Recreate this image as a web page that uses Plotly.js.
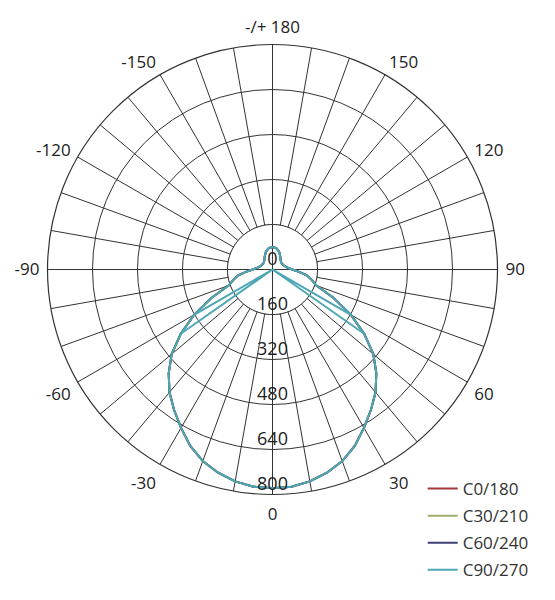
<!DOCTYPE html>
<html><head><meta charset="utf-8">
<script src="https://cdn.plot.ly/plotly-3.0.1.min.js"></script>
<style>html,body{margin:0;padding:0;background:#fff}#chart{width:555px;height:600px}</style>
</head><body><div id="chart"></div>
<script>
// ---- data (gamma angle in degrees, luminous intensity cd/klm) ----
const seriesNames = ['C0/180','C30/210','C60/240','C90/270'];
const seriesColors = ['#a8373a','#9fae6c','#3c4072','#4ea8b4'];

const thetaStd = [-180,-170,-160,-150,-140,-130,-120,-110,-100,-90,-85,-80,-75,-70,-65,-60,-55,-50,-45,-40,-35,-30,-25,-20,-15,-10,-5,0,5,10,15,20,25,30,35,40,45,50,55,60,65,70,75,80,85,90,100,110,120,130,140,150,160,170,180];
const rC0   = [80,77,68,55,45,40,40,42,50,70,95,125,145,165,240,322,398,468,522,570,610,650,692,725,748,765,775,778,775,765,748,725,692,650,610,570,522,468,398,322,240,165,145,125,95,70,50,42,40,40,45,55,68,77,80];
const rC30  = [80,77,68,55,45,40,40,42,50,70,95,125,145,165,240,322,398,468,522,570,610,650,692,725,748,765,775,778,775,765,748,725,692,650,610,570,522,468,398,322,240,165,145,125,95,70,50,42,40,40,45,55,68,77,80];
const rC60  = [80,77,68,55,45,40,40,42,50,70,95,125,145,165,240,322,398,468,522,570,610,650,692,725,748,765,775,778,775,765,748,725,692,650,610,570,522,468,398,322,240,165,145,125,95,70,50,42,40,40,45,55,68,77,80];

// C90/270: full curve, then (after gaps) the two dropout spikes seen near +/-57.5 deg
const thetaC90 = [-180,-170,-160,-150,-140,-130,-120,-110,-100,-90,-85,-80,-75,-70,-65,-60,-55,-50,-45,-40,-35,-30,-25,-20,-15,-10,-5,0,5,10,15,20,25,30,35,40,45,50,55,60,65,70,75,80,85,90,100,110,120,130,140,150,160,170,180,
                  null,-60,-57.5,-55,null,55,57.5,60];
const rC90     = [80,77,68,55,45,40,40,42,50,70,95,125,145,165,240,322,398,468,522,570,610,650,692,725,748,765,775,778,775,765,748,725,692,650,610,570,522,468,398,322,240,165,145,125,95,70,50,42,40,40,45,55,68,77,80,
                  null,322,0,398,null,398,0,322];

const radialTickVals = [0,160,320,480,640,800];
const radialTickText = ['0','160','320','480','640','800'];

const angleTickVals = [0,10,20,30,40,50,60,70,80,90,100,110,120,130,140,150,160,170,180,190,200,210,220,230,240,250,260,270,280,290,300,310,320,330,340,350];
const angleTickText = ['0','','','30','','','60','','','90','','','120','','','150','','','-/+ 180','','','-150','','','-120','','','-90','','','-60','','','-30','',''];

// ---- grid decoration: white inner disc (no spokes inside r=160) + cross ----
const discTheta = [], discR = [];
for (let a = 0; a <= 360; a += 2) { discTheta.push(a); discR.push(radialTickVals[1]); }

const gridCol = '#333333';
const font = '"Open Sans", Roboto, sans-serif';

const traces = [
  {type:'scatterpolar', mode:'lines', theta:discTheta, r:discR, fill:'toself', fillcolor:'#ffffff',
   line:{color:gridCol, width:1}, showlegend:false, hoverinfo:'skip'},
  {type:'scatterpolar', mode:'lines', theta:[0,0,180,null,90,90,270], r:[160,0,160,null,160,0,160],
   line:{color:gridCol, width:1}, showlegend:false, hoverinfo:'skip', connectgaps:false}
];
const rs = [rC0, rC30, rC60];
for (let i = 0; i < 3; i++) {
  traces.push({type:'scatterpolar', mode:'lines', name:seriesNames[i], legendgroup:'g'+i,
    theta:thetaStd, r:rs[i], line:{color:seriesColors[i], width:2}});
}
traces.push({type:'scatterpolar', mode:'lines', name:seriesNames[3], legendgroup:'g3',
  theta:thetaC90, r:rC90, connectgaps:false, line:{color:seriesColors[3], width:2}});
traces.push({type:'scatterpolar', mode:'text', theta:radialTickVals.map(()=>0), r:radialTickVals,
  text:radialTickText, textposition:'top center', textfont:{family:font, size:18, color:'#222'},
  showlegend:false, hoverinfo:'skip', cliponaxis:false});

const layout = {
  width:555, height:600,
  margin:{l:0, r:0, t:0, b:0},
  paper_bgcolor:'#ffffff',
  showlegend:true,
  legend:{x:0.7616, y:0.215, xanchor:'left', yanchor:'top', traceorder:'grouped', tracegroupgap:2,
    font:{family:font, size:17, color:'#333'}, bgcolor:'rgba(0,0,0,0)'},
  polar:{
    domain:{x:[0.0856,0.8964], y:[0.1758,0.9258]},
    bgcolor:'#ffffff',
    angularaxis:{rotation:-90, direction:'counterclockwise', tickmode:'array',
      tickvals:angleTickVals, ticktext:angleTickText, ticks:'outside', ticklen:4, tickcolor:'rgba(0,0,0,0)',
      showgrid:true, gridcolor:gridCol, gridwidth:1, showline:true, linecolor:gridCol, linewidth:1.2,
      tickfont:{family:font, size:17, color:'#222'}},
    radialaxis:{range:[0,800], tickmode:'array', tickvals:radialTickVals.slice(1), showticklabels:false,
      ticks:'', showline:false, showgrid:true, gridcolor:gridCol, gridwidth:1, angle:-90}
  }
};
Plotly.newPlot('chart', traces, layout, {displayModeBar:false, staticPlot:true});
</script></body></html>
